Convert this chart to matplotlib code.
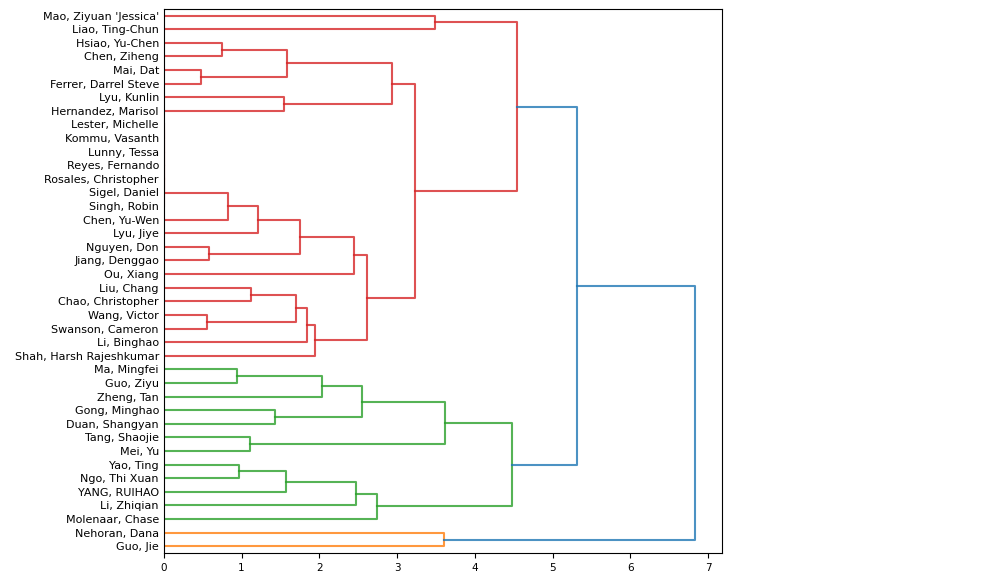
import matplotlib.pyplot as plt

# leaf labels, top to bottom
names = [
    "Mao, Ziyuan 'Jessica'", "Liao, Ting-Chun", "Hsiao, Yu-Chen", "Chen, Ziheng",
    "Mai, Dat", "Ferrer, Darrel Steve", "Lyu, Kunlin", "Hernandez, Marisol",
    "Lester, Michelle", "Kommu, Vasanth", "Lunny, Tessa", "Reyes, Fernando",
    "Rosales, Christopher", "Sigel, Daniel", "Singh, Robin", "Chen, Yu-Wen",
    "Lyu, Jiye", "Nguyen, Don", "Jiang, Denggao", "Ou, Xiang", "Liu, Chang",
    "Chao, Christopher", "Wang, Victor", "Swanson, Cameron", "Li, Binghao",
    "Shah, Harsh Rajeshkumar", "Ma, Mingfei", "Guo, Ziyu", "Zheng, Tan",
    "Gong, Minghao", "Duan, Shangyan", "Tang, Shaojie", "Mei, Yu", "Yao, Ting",
    "Ngo, Thi Xuan", "YANG, RUIHAO", "Li, Zhiqian", "Molenaar, Chase",
    "Nehoran, Dana", "Guo, Jie",
]

# merges: (child a, child b, height); leaves are 0..39, merge k gives node 40+k
merges = [
    (8, 9, 0.0), (40, 10, 0.0), (41, 11, 0.0), (42, 12, 0.0),     # 40-43
    (43, 13, 0.0), (44, 14, 0.0),                                   # 44-45
    (0, 1, 3.49), (2, 3, 0.75), (4, 5, 0.48), (47, 48, 1.59),       # 46-49
    (6, 7, 1.55), (49, 50, 2.94),                                   # 50-51
    (45, 15, 0.83), (52, 16, 1.21), (17, 18, 0.585), (53, 54, 1.745),  # 52-55
    (55, 19, 2.45),                                                 # 56
    (20, 21, 1.12), (22, 23, 0.56), (57, 58, 1.695), (59, 24, 1.845),  # 57-60
    (60, 25, 1.95), (56, 61, 2.61), (51, 62, 3.228), (46, 63, 4.543),  # 61-64
    (26, 27, 0.94), (65, 28, 2.03), (29, 30, 1.436), (66, 67, 2.544),  # 65-68
    (31, 32, 1.114), (68, 69, 3.612),                               # 69-70
    (33, 34, 0.972), (71, 35, 1.565), (72, 36, 2.467), (73, 37, 2.747),  # 71-74
    (70, 74, 4.482), (38, 39, 3.598),                               # 75-76
    (64, 75, 5.316), (77, 76, 6.836),                               # 77-78
]

palette = ["C1", "C2", "C3", "C4", "C5"]
n = len(names)
pos = {i: 5 + 10 * (n - 1 - i) for i in range(n)}
heights = {i: 0.0 for i in range(n)}
kids = {}
for k, (a, b, h) in enumerate(merges):
    node = n + k
    pos[node] = (pos[a] + pos[b]) / 2
    heights[node] = h
    kids[node] = (a, b)

top = n + len(merges) - 1
threshold = 0.7 * heights[top]

# colour clusters below threshold, in order from the bottom leaf up
color = {}
roots = []


def find_roots(node):
    if node < n:
        return
    if heights[node] < threshold:
        roots.append(node)
    else:
        for c in kids[node]:
            find_roots(c)


def paint(node, col):
    color[node] = col
    if node >= n:
        for c in kids[node]:
            paint(c, col)


find_roots(top)
roots.sort(key=lambda r: pos[r])
for i, r in enumerate(roots):
    paint(r, palette[i % len(palette)])

fig = plt.figure(figsize=(9.81, 5.81), dpi=100)
ax = fig.add_axes([0.167, 0.048, 0.569, 0.937])

for node, (a, b) in kids.items():
    h = heights[node]
    col = color.get(node, "C0")
    ax.plot([heights[a], h, h, heights[b]], [pos[a], pos[a], pos[b], pos[b]],
            color=col, lw=1.5, alpha=0.8)

ax.set_ylim(0, 10 * n)
ax.set_xlim(0, heights[top] * 1.05)
ax.set_yticks([pos[i] for i in range(n)])
ax.set_yticklabels(names, fontsize=8)
ax.tick_params(axis="y", length=0)
ax.tick_params(axis="x", labelsize=7.5)

fig.savefig("out.png")
